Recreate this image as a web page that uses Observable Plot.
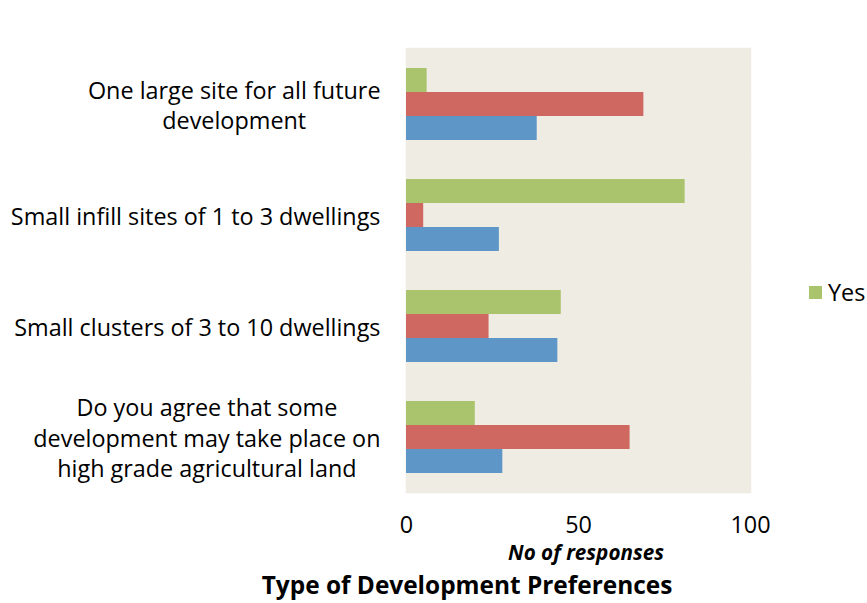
<!DOCTYPE html>
<html><head><meta charset="utf-8">
<script src="https://cdn.jsdelivr.net/npm/d3@7"></script>
<script src="https://cdn.jsdelivr.net/npm/@observablehq/plot@0.6"></script>
<style>
body{margin:0;background:#fff;overflow:hidden;font-family:"Open Sans",sans-serif;color:#000;}
#wrap{position:relative;width:867px;height:603px;overflow:hidden;}
#wrap svg{position:absolute;left:0;top:0;}
.ov{position:absolute;white-space:nowrap;transform:translate(-50%,-50%);line-height:1;}
#legend{display:flex;align-items:center;position:absolute;transform:translateY(-50%);white-space:nowrap;}
#legend span.sw{display:inline-block;width:13px;height:13px;margin-right:6px;}
</style></head><body><div id="wrap"></div>
<script>
const categories = [
  "One large site for all future development",
  "Small infill sites of 1 to 3 dwellings",
  "Small clusters of 3 to 10 dwellings",
  "Do you agree that some development may take place on high grade agricultural land"
];
const categoryLines = [
  ["One large site for all future", "development"],
  ["Small infill sites of 1 to 3 dwellings"],
  ["Small clusters of 3 to 10 dwellings"],
  ["Do you agree that some", "development may take place on", "high grade agricultural land"]
];
const seriesNames = ["Yes", "No", "Don't know"];
const seriesColors = ["#AAC46D", "#CE6861", "#5F96C8"];
const yesValues = [6, 81, 45, 20];
const noValues = [69, 5, 24, 65];
const dontKnowValues = [38, 27, 44, 28];
const xTicks = [0, 50, 100];
const legendShown = ["Yes"];
const xLabel = "No of responses";
const titleText = "Type of Development Preferences";

const seriesValues = [yesValues, noValues, dontKnowValues];
const rows = [];
categories.forEach((c, i) => seriesNames.forEach((s, j) => rows.push({category: c, series: s, value: seriesValues[j][i]})));

const fam = "'Open Sans'";
const ctx = document.createElement("canvas").getContext("2d");
function measure(text, size, prefix = "") { ctx.font = `${prefix}${size}px ${fam}`; return ctx.measureText(text).width; }
function fit(text, target, prefix = "") { return 20 * target / measure(text, 20, prefix); }

const labelSize = fit(categoryLines[1][0], 370);
const titleSize = fit(titleText, 411, "bold ");
const xLabelSize = fit(xLabel, 156, "italic bold ");

const labelMarks = categories.map((c, i) => {
  const lines = categoryLines[i];
  const w = Math.max(...lines.map(l => measure(l, labelSize)));
  return Plot.text([c], {fy: d => d, text: () => lines.join("\n"), frameAnchor: "left",
    textAnchor: "middle", dx: -26 - w / 2, lineHeight: 30.5 / labelSize, fontSize: labelSize, fill: "#000"});
});

const chart = Plot.plot({
  width: 867, height: 565,
  marginLeft: 406, marginRight: 117, marginTop: 47, marginBottom: 73,
  style: {fontFamily: "Open Sans, sans-serif", background: "transparent"},
  x: {domain: [0, 100]},
  fy: {domain: categories, padding: 0, axis: null},
  y: {domain: seriesNames, paddingInner: 0, paddingOuter: 0.735, axis: null},
  color: {domain: seriesNames, range: seriesColors},
  marks: [
    Plot.frame({fill: "#EFECE4", stroke: "#EFECE4", strokeWidth: 1.5}),
    Plot.barX(rows, {fy: "category", y: "series", x: "value", fill: "series"}),
    Plot.axisX({ticks: xTicks, tickSize: 0, tickPadding: 24, fontSize: labelSize, label: null, fill: "#000"}),
    ...labelMarks
  ]
});
const wrap = document.getElementById("wrap");
wrap.appendChild(chart);
function overlay(text, cx, cy, css) {
  const d = document.createElement("div"); d.className = "ov"; d.textContent = text;
  d.style.left = cx + "px"; d.style.top = cy + "px"; Object.assign(d.style, css); wrap.appendChild(d);
}
overlay(xLabel, 586, 552, {fontWeight: "bold", fontStyle: "italic", fontSize: xLabelSize + "px"});
overlay(titleText, 467, 585, {fontWeight: "bold", fontSize: titleSize + "px"});
const lg = document.createElement("div"); lg.id = "legend";
lg.style.left = "809px"; lg.style.top = "292px"; lg.style.fontSize = labelSize + "px";
legendShown.forEach(n => {
  const sw = document.createElement("span"); sw.className = "sw"; sw.style.background = seriesColors[seriesNames.indexOf(n)];
  const t = document.createElement("span"); t.textContent = n;
  lg.appendChild(sw); lg.appendChild(t);
});
wrap.appendChild(lg);
</script></body></html>
